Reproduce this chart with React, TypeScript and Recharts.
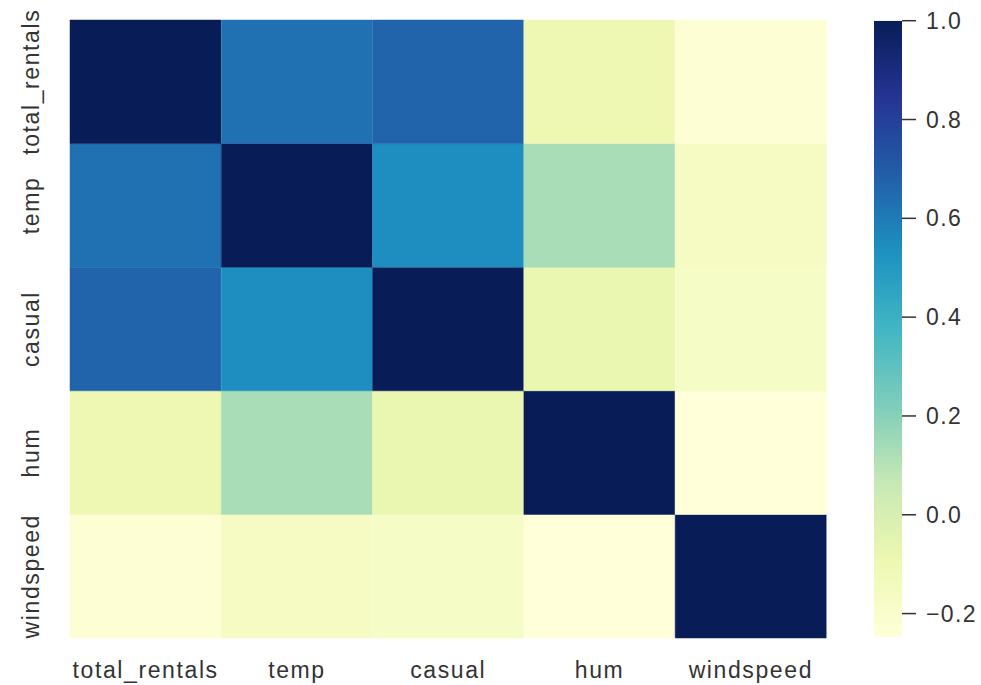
import React from 'react';
import { BarChart, Bar, XAxis, YAxis, Cell } from 'recharts';

const labels = ['total_rentals', 'temp', 'casual', 'hum', 'windspeed'];
const totalRentalsCorr = [1.0, 0.63, 0.67, -0.1, -0.23];
const tempCorr = [0.63, 1.0, 0.54, 0.13, -0.16];
const casualCorr = [0.67, 0.54, 1.0, -0.08, -0.17];
const humCorr = [-0.1, 0.13, -0.08, 1.0, -0.248];
const windspeedCorr = [-0.23, -0.16, -0.17, -0.248, 1.0];
const colorbarTicks = [-0.2, 0.0, 0.2, 0.4, 0.6, 0.8, 1.0];

const matrix = [totalRentalsCorr, tempCorr, casualCorr, humCorr, windspeedCorr];
const vmin = Math.min(...matrix.flat());
const vmax = Math.max(...matrix.flat());

const YLGNBU = [
  [255, 255, 217],
  [237, 248, 177],
  [199, 233, 180],
  [127, 205, 187],
  [65, 182, 196],
  [29, 145, 192],
  [34, 94, 168],
  [37, 52, 148],
  [8, 29, 88],
];

function cmap(t: number): string {
  const c = Math.max(0, Math.min(1, t)) * (YLGNBU.length - 1);
  const i = Math.min(Math.floor(c), YLGNBU.length - 2);
  const f = c - i;
  const a = YLGNBU[i];
  const b = YLGNBU[i + 1];
  const rgb = a.map((v, k) => Math.round(v + (b[k] - v) * f));
  return `rgb(${rgb[0]},${rgb[1]},${rgb[2]})`;
}
const colorFor = (v: number) => cmap((v - vmin) / (vmax - vmin));

const heatData = labels.map((name) => ({ name }));
const rowTicks = labels.map((_, i) => labels.length - 1 - i + 0.5);
const cbData = [{ name: 'cb', range: [vmin, vmax] }];
const gradStops = YLGNBU.map((c, k) => ({
  offset: k / (YLGNBU.length - 1),
  color: `rgb(${c[0]},${c[1]},${c[2]})`,
})).reverse();

const FONT = '"Liberation Sans", Arial, sans-serif';
const TEXT = '#333333';

const XTick = (props: any) => {
  const { x, y, payload } = props;
  return (
    <text x={x} y={y} dy={32} textAnchor="middle" fill={TEXT} fontSize={23} fontFamily={FONT} letterSpacing={1.6}>
      {payload.value}
    </text>
  );
};

const YTick = (props: any) => {
  const { y, payload } = props;
  const idx = labels.length - 1 - Math.floor(payload.value);
  const tx = 39;
  return (
    <text x={tx} y={y} transform={`rotate(-90, ${tx}, ${y})`} textAnchor="middle" fill={TEXT} fontSize={23} fontFamily={FONT} letterSpacing={1.6}>
      {labels[idx]}
    </text>
  );
};

const CbTick = (props: any) => {
  const { x, y, payload } = props;
  const s = Number(payload.value).toFixed(1).replace('-', '\u2212');
  return (
    <text x={x + 2} y={y} dy={8} textAnchor="start" fill={TEXT} fontSize={23} fontFamily={FONT} letterSpacing={1.4}>
      {s}
    </text>
  );
};

export default function App() {
  const stackOrder = labels.map((_, i) => labels.length - 1 - i);
  return (
    <div style={{ position: 'absolute', left: 0, top: 0, width: 981, height: 685, background: '#fff' }}>
      <div style={{ position: 'absolute', left: 0, top: 0 }}>
        <BarChart
          width={840}
          height={685}
          data={heatData}
          margin={{ top: 20, right: 13.5, left: 0, bottom: 0 }}
          barCategoryGap={0}
          barGap={0}
        >
          <XAxis dataKey="name" axisLine={false} tickLine={false} height={47} tick={<XTick />} interval={0} />
          <YAxis
            type="number"
            domain={[0, labels.length]}
            ticks={rowTicks}
            axisLine={false}
            tickLine={false}
            width={70}
            tick={<YTick />}
            interval={0}
          />
          {stackOrder.map((i) => (
            <Bar key={i} dataKey={() => 1} stackId="h" isAnimationActive={false}>
              {labels.map((_, j) => (
                <Cell key={j} fill={colorFor(matrix[i][j])} stroke={colorFor(matrix[i][j])} strokeWidth={0.5} />
              ))}
            </Bar>
          ))}
        </BarChart>
      </div>
      <div style={{ position: 'absolute', left: 840, top: 0 }}>
        <BarChart
          width={141}
          height={685}
          data={cbData}
          margin={{ top: 20.7, right: 0, left: 34, bottom: 47.7 }}
          barCategoryGap={0}
        >
          <defs>
            <linearGradient id="cbGrad" x1="0" y1="0" x2="0" y2="1">
              {gradStops.map((s, k) => (
                <stop key={k} offset={1 - s.offset} stopColor={s.color} />
              ))}
            </linearGradient>
          </defs>
          <XAxis dataKey="name" hide />
          <YAxis
            type="number"
            orientation="right"
            domain={[vmin, vmax]}
            ticks={colorbarTicks}
            allowDataOverflow
            axisLine={false}
            tickLine={{ stroke: '#333', strokeWidth: 1.5 }}
            tickSize={14}
            tickMargin={8}
            width={79}
            tick={<CbTick />}
            interval={0}
          />
          <Bar dataKey="range" fill="url(#cbGrad)" isAnimationActive={false} />
        </BarChart>
      </div>
    </div>
  );
}
